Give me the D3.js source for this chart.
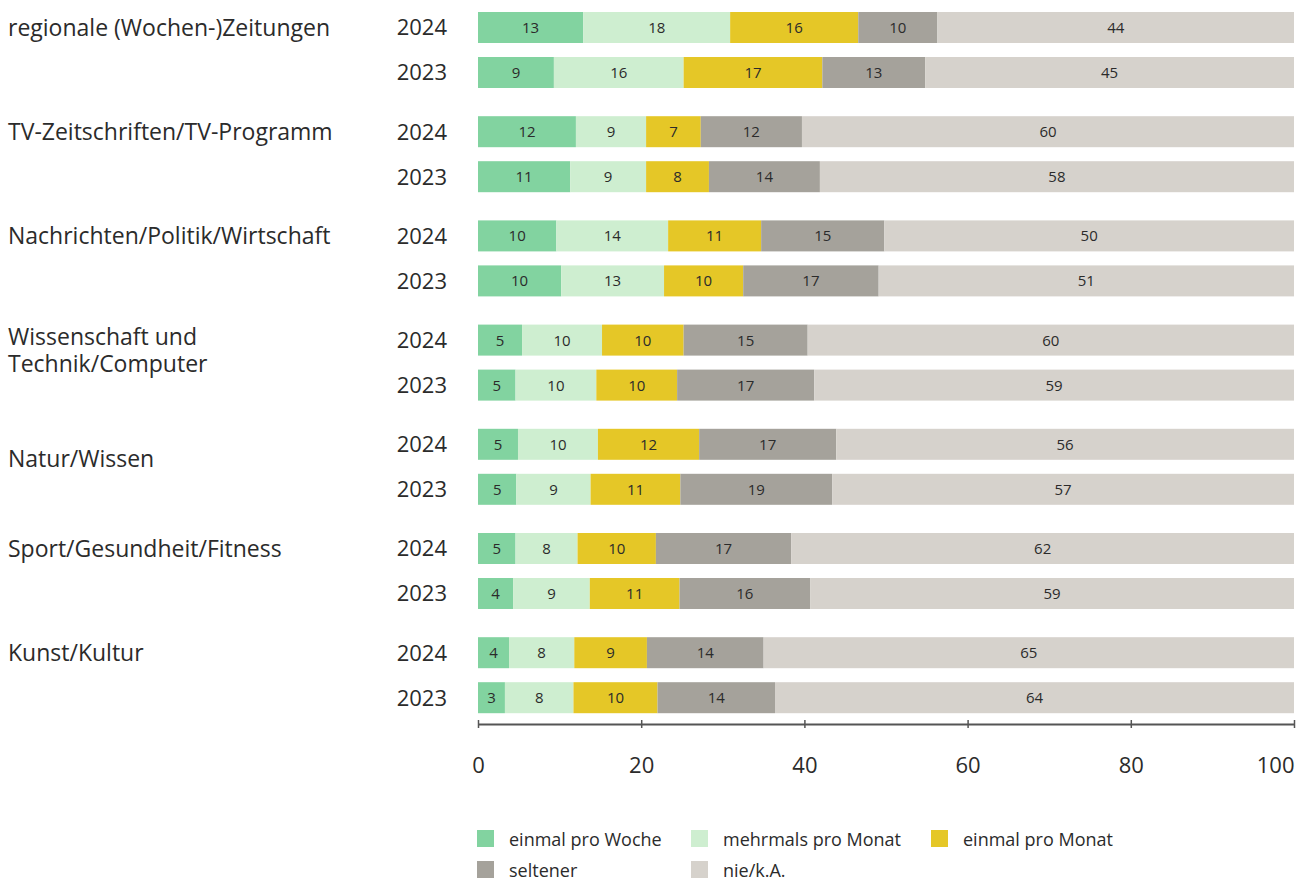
<!DOCTYPE html>
<html>
<head>
<meta charset="utf-8">
<script src="https://cdn.jsdelivr.net/npm/d3@7"></script>
<style>
  body { margin: 0; background: #fff; }
  text { font-family: "Open Sans", sans-serif; fill: #2b2b2b; }
</style>
</head>
<body>
<div class="chart"></div>
<script>
const categories = [
  "regionale (Wochen-)Zeitungen",
  "TV-Zeitschriften/TV-Programm",
  "Nachrichten/Politik/Wirtschaft",
  "Wissenschaft und Technik/Computer",
  "Natur/Wissen",
  "Sport/Gesundheit/Fitness",
  "Kunst/Kultur"
];
const years = ["2024", "2023"];
const seriesNames = ["einmal pro Woche", "mehrmals pro Monat", "einmal pro Monat", "seltener", "nie/k.A."];

// one value per row: category 1 2024, category 1 2023, category 2 2024, ...
const einmalWoche   = [12.9, 9.3, 12.0, 11.3, 9.6, 10.2, 5.4, 4.6, 4.9, 4.7, 4.6, 4.3, 3.8, 3.3];
const mehrmalsMonat = [18.0, 15.9, 8.6, 9.3, 13.7, 12.6, 9.8, 9.9, 9.8, 9.1, 7.6, 9.4, 8.0, 8.4];
const einmalMonat   = [15.7, 17.0, 6.7, 7.7, 11.4, 9.7, 10.0, 9.9, 12.4, 11.0, 9.6, 11.0, 8.9, 10.3];
const seltener      = [9.7, 12.6, 12.4, 13.6, 15.1, 16.6, 15.2, 16.8, 16.8, 18.6, 16.6, 16.0, 14.3, 14.4];
const nieKA         = [43.7, 45.2, 60.3, 58.1, 50.2, 50.9, 59.6, 58.8, 56.1, 56.6, 61.6, 59.3, 65.0, 63.6];
const xTicks = [0, 20, 40, 60, 80, 100];

const colors = ["#82d3a0", "#ceeed0", "#e5c727", "#a5a29b", "#d6d2cc"];
const width = 1307, height = 882;

const seriesValues = [einmalWoche, mehrmalsMonat, einmalMonat, seltener, nieKA];

const rows = [];
categories.forEach((c, i) => {
  years.forEach((y, j) => {
    const idx = i * 2 + j;
    const r = { category: c, year: y };
    seriesNames.forEach((s, k) => r[s] = seriesValues[k][idx]);
    rows.push(r);
  });
});

const stacked = d3.stack().keys(seriesNames)(rows);

const x = d3.scaleLinear().domain([0, 100]).range([478, 1294]);

const yGroup = d3.scaleBand()
  .domain(categories)
  .range([12, 12 + 7 * 104.2]);

const yInner = d3.scaleBand()
  .domain(years)
  .range([0, 76])
  .paddingInner(14 / 45);

const color = d3.scaleOrdinal().domain(seriesNames).range(colors);

const svg = d3.select(".chart")
  .append("svg")
  .attr("width", width)
  .attr("height", height);

const rowY = d => yGroup(d.category) + yInner(d.year);

// bars
svg.append("g")
  .selectAll("g")
  .data(stacked)
  .join("g")
  .attr("fill", d => color(d.key))
  .selectAll("rect")
  .data(d => d)
  .join("rect")
  .attr("x", d => x(d[0]))
  .attr("y", d => rowY(d.data))
  .attr("width", d => x(d[1]) - x(d[0]))
  .attr("height", yInner.bandwidth());

// segment labels
svg.append("g")
  .attr("font-size", 15)
  .attr("text-anchor", "middle")
  .selectAll("g")
  .data(stacked)
  .join("g")
  .selectAll("text")
  .data(d => d)
  .join("text")
  .attr("x", d => (x(d[0]) + x(d[1])) / 2)
  .attr("y", d => rowY(d.data) + yInner.bandwidth() / 2)
  .attr("dy", "0.36em")
  .text(d => Math.round(d[1] - d[0] + 1e-9));

// year labels
svg.append("g")
  .attr("font-size", 22)
  .attr("text-anchor", "end")
  .selectAll("text")
  .data(rows)
  .join("text")
  .attr("x", 447)
  .attr("y", d => rowY(d) + yInner.bandwidth() / 2)
  .attr("dy", "0.36em")
  .text(d => d.year);

// category labels (some wrapped or nudged as in the original)
const labelLines = {
  "Wissenschaft und Technik/Computer": ["Wissenschaft und", "Technik/Computer"]
};
const labelShift = { "Natur/Wissen": 14, "Wissenschaft und Technik/Computer": -3 };

svg.append("g")
  .attr("font-size", 23)
  .selectAll("text")
  .data(categories)
  .join("text")
  .attr("x", 8)
  .attr("y", d => yGroup(d) + yInner("2024") + yInner.bandwidth() / 2 + (labelShift[d] || 0))
  .each(function (d) {
    const lines = labelLines[d] || [d];
    d3.select(this).selectAll("tspan")
      .data(lines)
      .join("tspan")
      .attr("x", 8)
      .attr("dy", (l, i) => i === 0 ? "0.36em" : "27px")
      .text(l => l);
  });

// x axis
const axis = svg.append("g")
  .attr("transform", "translate(0,724)")
  .call(d3.axisBottom(x).tickValues(xTicks).tickSize(8).tickSizeOuter(0));

axis.select(".domain").attr("stroke", "#555").attr("stroke-width", 2);
axis.selectAll(".tick line")
  .attr("stroke", "#555")
  .attr("stroke-width", 1.5)
  .attr("y1", -4)
  .attr("y2", 4);
axis.selectAll(".tick text")
  .attr("font-family", "Open Sans, sans-serif")
  .attr("font-size", 22)
  .attr("fill", "#2b2b2b")
  .attr("y", 49)
  .attr("dy", 0)
  .attr("text-anchor", d => d === 100 ? "end" : "middle");

// legend
const legendPos = [[477, 830], [691, 830], [931, 830], [477, 861], [691, 861]];
const legend = svg.append("g")
  .selectAll("g")
  .data(seriesNames)
  .join("g")
  .attr("transform", (d, i) => `translate(${legendPos[i][0]},${legendPos[i][1]})`);

legend.append("rect")
  .attr("width", 17)
  .attr("height", 17)
  .attr("fill", d => color(d));

legend.append("text")
  .attr("x", 32)
  .attr("y", 16)
  .attr("font-size", 18)
  .text(d => d);
</script>
</body>
</html>
